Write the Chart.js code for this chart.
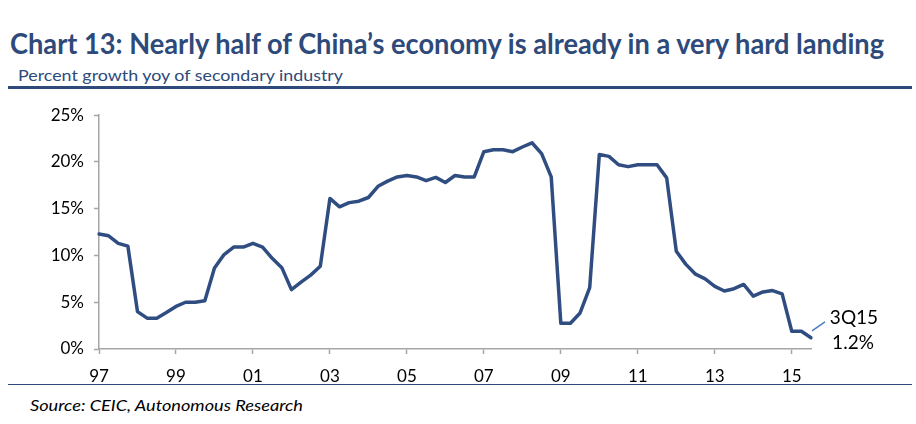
<!DOCTYPE html>
<html>
<head>
<meta charset="utf-8">
<script src="https://cdn.jsdelivr.net/npm/chart.js@4"></script>
<style>
  body { margin: 0; background: #fff; }
  #page { position: relative; width: 916px; height: 424px; overflow: hidden; font-family: Lato, "Open Sans", sans-serif; }
  .txt { position: absolute; white-space: nowrap; transform-origin: left top; }
  #title { left: 10px; top: 26px; font-size: 28px; font-weight: bold; color: #2d4a7a; line-height: 34px; }
  #subtitle { left: 18px; top: 66px; font-size: 15px; color: #2d4a7a; line-height: 18px; }
  #source { left: 30px; top: 395px; font-size: 16px; font-style: italic; color: #000; line-height: 20px; }
  .rule { position: absolute; left: 8px; width: 904px; background: #2d4a7a; }
  #chartBox { position: absolute; left: 0; top: 95px; width: 916px; height: 290px; }
</style>
</head>
<body>
<div id="page">
  <div id="title" class="txt">Chart 13: Nearly half of China’s economy is already in a very hard landing</div>
  <div id="subtitle" class="txt">Percent growth yoy of secondary industry</div>
  <div class="rule" style="top:86px;height:3px;"></div>
  <div id="chartBox"><canvas id="growthChart"></canvas></div>
  <div class="rule" style="top:384px;height:1px;"></div>
  <div id="source" class="txt">Source: CEIC, Autonomous Research</div>
</div>
<script>
// Years covered, quarterly from 1Q97 to 3Q15
const years = ['97','98','99','00','01','02','03','04','05','06','07','08','09','10','11','12','13','14','15'];
const quarters = [];
years.forEach(y => {
    for (let q = 1; q <= 4; q++) {
        if (y === '15' && q > 3) break;
        quarters.push(q + 'Q' + y);
    }
});

// Secondary industry growth, % yoy
const growth = [
    12.3, 12.1, 11.3, 11.0,   // 97
    4.0, 3.3, 3.3, 3.9,       // 98
    4.55, 5.0, 5.0, 5.15,     // 99
    8.65, 10.1, 10.9, 10.9,   // 00
    11.3, 10.9, 9.7, 8.7,     // 01
    6.35, 7.15, 7.9, 8.85,    // 02
    16.1, 15.2, 15.65, 15.8,  // 03
    16.2, 17.4, 17.95, 18.4,  // 04
    18.55, 18.4, 18.0, 18.35, // 05
    17.8, 18.55, 18.4, 18.4,  // 06
    21.1, 21.3, 21.3, 21.1,   // 07
    21.6, 22.05, 20.9, 18.4,  // 08
    2.75, 2.75, 3.85, 6.55,   // 09
    20.8, 20.6, 19.7, 19.5,   // 10
    19.7, 19.7, 19.7, 18.3,   // 11
    10.45, 9.05, 8.0, 7.5,    // 12
    6.7, 6.2, 6.45, 6.9,      // 13
    5.65, 6.1, 6.25, 5.9,     // 14
    1.9, 1.9, 1.2             // 15
];

// Axis ticks
const xTickYears = ['97','99','01','03','05','07','09','11','13','15'];
const yTicks = [0, 5, 10, 15, 20, 25];

// Callout on the last point
const calloutLines = ['3Q15', '1.2%'];

// Squeeze a text block to the width it has in the reference
function fitWidth(id, target) {
    const el = document.getElementById(id);
    const w = el.getBoundingClientRect().width;
    el.style.transform = 'scaleX(' + (target / w) + ')';
}
fitWidth('title', 874);
fitWidth('subtitle', 325);
fitWidth('source', 273);

const axisGrey = '#a6a6a6';
const tickFont = { family: 'Lato, sans-serif', size: 17 };

const calloutPlugin = {
    id: 'callout',
    afterDatasetsDraw(chart) {
        const meta = chart.getDatasetMeta(0);
        const pt = meta.data[meta.data.length - 1];
        const ctx = chart.ctx;
        ctx.save();
        ctx.strokeStyle = '#4a7ebb';
        ctx.lineWidth = 1.5;
        ctx.beginPath();
        ctx.moveTo(pt.x + 1, pt.y - 7);
        ctx.lineTo(pt.x + 14, pt.y - 16);
        ctx.stroke();
        ctx.fillStyle = '#000';
        ctx.font = '19px Lato, sans-serif';
        ctx.textAlign = 'center';
        ctx.textBaseline = 'alphabetic';
        ctx.fillText(calloutLines[0], pt.x + 43, pt.y - 14);
        ctx.fillText(calloutLines[1], pt.x + 42, pt.y + 11);
        ctx.restore();
    }
};

const chartConfig = {
    type: 'line',
    data: {
        labels: quarters,
        datasets: [{
            label: 'Secondary industry growth',
            data: growth,
            borderColor: '#304d82',
            borderWidth: 3.5,
            borderJoinStyle: 'round',
            borderCapStyle: 'round',
            pointRadius: 0,
            tension: 0,
            fill: false
        }]
    },
    options: {
        responsive: true,
        maintainAspectRatio: false,
        animation: false,
        layout: { padding: { left: 0, right: 105, top: 16, bottom: 0 } },
        plugins: {
            legend: { display: false },
            tooltip: { enabled: false }
        },
        scales: {
            x: {
                type: 'category',
                offset: false,
                afterBuildTicks(scale) {
                    scale.ticks = xTickYears.map(y => ({ value: quarters.indexOf('1Q' + y) }));
                },
                afterFit(scale) { scale.height = 36; },
                grid: {
                    drawOnChartArea: false,
                    tickLength: 5,
                    tickColor: axisGrey,
                    tickWidth: 1.5
                },
                border: { color: axisGrey, width: 1.5 },
                ticks: {
                    autoSkip: false,
                    maxRotation: 0,
                    padding: 12,
                    color: '#000',
                    font: tickFont,
                    callback: v => quarters[v].slice(2)
                }
            },
            y: {
                min: 0,
                max: 25,
                afterBuildTicks(scale) {
                    scale.ticks = yTicks.map(v => ({ value: v }));
                },
                afterFit(scale) { scale.width = 99; },
                grid: {
                    drawOnChartArea: false,
                    tickLength: 5,
                    tickColor: axisGrey,
                    tickWidth: 1.5
                },
                border: { color: axisGrey, width: 1.5 },
                ticks: {
                    padding: 10,
                    color: '#000',
                    font: tickFont,
                    callback: v => v + '%'
                }
            }
        }
    },
    plugins: [calloutPlugin]
};

new Chart(document.getElementById('growthChart'), chartConfig);
</script>
</body>
</html>
